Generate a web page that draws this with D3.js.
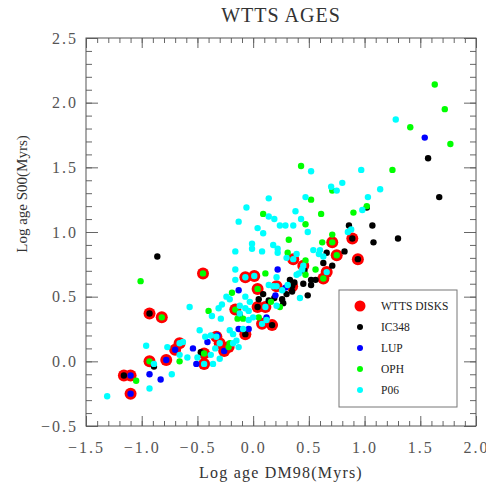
<!DOCTYPE html>
<html>
<head>
<meta charset="utf-8">
<script src="https://cdn.jsdelivr.net/npm/d3@7/dist/d3.min.js"></script>
<style>
  body { margin: 0; background: #fff; }
  svg text { font-family: "Liberation Serif", "Times New Roman", serif; }
</style>
</head>
<body>
<div id="chart"></div>
<script>
// values (log ages in Myr)
const xTicks = [-1.5, -1.0, -0.5, 0.0, 0.5, 1.0, 1.5, 2.0];
const yTicks = [-0.5, 0.0, 0.5, 1.0, 1.5, 2.0, 2.5];

const legendLabels = ["WTTS DISKS", "IC348", "LUP", "OPH", "P06"];

const ic348 = [
  [-0.86, 0.81], [-0.89, -0.04], [-0.47, 0.07], [-0.12, 0.36], [0.05, 0.48], [0.09, 0.52],
  [0.14, 0.47], [0.19, 0.49], [0.26, 0.48], [0.27, 0.45], [0.30, 0.52], [0.33, 0.63],
  [0.37, 0.61], [0.35, 0.54], [0.45, 0.60], [0.46, 0.70], [0.52, 0.63], [0.56, 0.63],
  [0.49, 0.51], [0.52, 0.59], [0.63, 0.76], [0.66, 0.84], [0.71, 0.74], [0.82, 0.85],
  [0.86, 1.05], [1.07, 1.05], [1.08, 0.92], [1.02, 1.19], [1.30, 0.95], [1.57, 1.57],
  [1.67, 1.27],
  [-1.16, -0.11], [-0.93, 0.37], [0.35, 0.58], [0.04, 0.42], [0.17, 0.28], [-0.07, 0.21],
  [0.89, 0.95], [0.94, 0.79]
];

const lup = [
  [-0.93, -0.10], [-0.83, -0.14], [-0.54, 0.10], [-0.51, -0.02], [-0.41, 0.15], [-0.32, 0.20],
  [-0.13, 0.55], [-0.13, 0.25], [-0.04, 0.25], [0.12, 0.34], [0.22, 0.71], [0.20, 0.51],
  [0.29, 0.57], [1.54, 1.73],
  [-1.10, -0.11], [-1.10, -0.25], [-0.78, 0.01], [-0.70, 0.09], [-0.26, 0.08]
];

const oph = [
  [-1.01, 0.62], [-1.05, -0.15], [-0.66, 0.00], [-0.40, 0.39], [-0.19, 0.53], [-0.14, 0.33],
  [-0.21, 0.14], [-0.09, 0.33], [0.05, 0.34], [0.11, 0.68], [0.16, 0.46], [0.24, 0.42],
  [0.32, 0.94], [0.31, 0.84], [0.47, 0.78], [0.47, 0.67], [0.56, 0.71], [0.47, 1.06],
  [0.62, 0.92], [0.71, 0.98], [0.43, 1.51], [0.71, 1.32], [0.52, 1.25], [0.09, 1.14],
  [0.61, 1.14], [1.63, 2.14], [1.72, 1.95], [1.41, 1.81], [1.77, 1.68], [1.25, 1.48],
  [1.02, 1.20], [0.90, 1.15],
  [-0.82, 0.34], [-0.93, 0.00], [-0.45, 0.68], [-0.44, 0.06], [-0.22, 0.11], [-0.16, 0.40],
  [0.04, 0.56], [0.63, 0.64], [0.71, 0.92], [0.75, 0.82]
];

const p06 = [
  [-1.31, -0.27], [-0.93, -0.21], [-0.73, -0.10], [-0.96, 0.12], [-0.89, -0.02], [-0.77, 0.11],
  [-0.63, 0.15], [-0.66, 0.05], [-0.59, 0.03], [-0.57, 0.42], [-0.50, 0.03], [-0.48, 0.24],
  [-0.43, 0.19], [-0.38, 0.20], [-0.38, 0.05], [-0.37, 0.35], [-0.36, -0.02], [-0.34, 0.10],
  [-0.30, 0.02], [-0.29, 0.33], [-0.28, 0.44], [-0.31, 0.41], [-0.24, 0.50], [-0.21, 0.48],
  [-0.16, 0.63], [-0.16, 0.71], [-0.16, 0.85], [-0.13, 1.08], [-0.06, 1.19], [-0.13, 0.11],
  [-0.18, 0.14], [-0.15, 0.16], [-0.21, 0.24], [-0.18, 0.21], [-0.12, 0.37], [-0.12, 0.43],
  [-0.07, 0.41], [-0.04, 0.39], [-0.07, 0.50], [-0.03, 0.46], [-0.04, 0.32], [0.00, 0.34],
  [-0.09, 0.25], [0.12, 0.32], [0.14, 0.59], [0.18, 0.58], [0.26, 0.55], [0.31, 0.59],
  [0.04, 1.03], [0.09, 0.99], [0.24, 1.05], [0.29, 1.05], [0.36, 1.05], [0.49, 1.00],
  [-0.01, 0.91], [-0.01, 0.87], [0.18, 0.90], [0.22, 0.87], [0.22, 0.84], [0.08, 0.85],
  [0.39, 0.83], [0.54, 0.86], [0.60, 0.86], [0.59, 0.83], [0.44, 0.71], [0.41, 0.68],
  [0.39, 0.67], [0.85, 1.00], [0.88, 1.02], [0.14, 1.26], [0.47, 1.27], [0.14, 1.12],
  [0.19, 1.10], [0.38, 1.16], [0.43, 1.10], [0.52, 1.47], [0.70, 1.35], [0.75, 1.32],
  [1.28, 1.87], [0.97, 1.48], [0.80, 1.38], [1.14, 1.33], [1.03, 1.27], [0.98, 1.17],
  [0.21, 0.65], [0.42, 0.49], [0.21, 0.43], [0.30, 0.80], [0.63, 0.81],
  [-0.66, 0.14], [-0.44, -0.02], [-0.33, 0.19], [-0.30, 0.14], [-0.07, 0.65], [0.01, 0.66],
  [0.21, 0.58], [0.11, 0.42], [0.08, 0.29], [0.36, 0.79], [0.45, 0.74], [0.66, 0.69]
];

// stars with disks, over-plotted as big red circles
const wttsDisks = [
  [-1.16, -0.11], [-1.10, -0.11], [-1.10, -0.25], [-0.93, 0.37], [-0.82, 0.34], [-0.93, 0.00],
  [-0.78, 0.01], [-0.70, 0.09], [-0.66, 0.14], [-0.45, 0.68], [-0.44, 0.06], [-0.44, -0.02],
  [-0.33, 0.19], [-0.30, 0.14], [-0.26, 0.08], [-0.22, 0.11], [-0.16, 0.40], [-0.07, 0.65],
  [0.01, 0.66], [0.04, 0.56], [0.21, 0.58], [0.35, 0.58], [0.04, 0.42], [0.11, 0.42],
  [0.17, 0.28], [0.08, 0.29], [-0.07, 0.21], [0.36, 0.79], [0.45, 0.74], [0.66, 0.69],
  [0.63, 0.64], [0.71, 0.92], [0.75, 0.82], [0.89, 0.95], [0.94, 0.79]
];

const groups = [
  { name: "IC348", pts: ic348, color: "#000000" },
  { name: "LUP", pts: lup, color: "#0000ff" },
  { name: "OPH", pts: oph, color: "#00ff00" },
  { name: "P06", pts: p06, color: "#00ffff" }
];

const width = 486, height = 483;
const margin = { top: 38, right: 10, bottom: 57, left: 86 };

const svg = d3.select("#chart").append("svg")
  .attr("width", width)
  .attr("height", height);

const x = d3.scaleLinear().domain([-1.5, 2.0]).range([margin.left, width - margin.right]);
const y = d3.scaleLinear().domain([-0.5, 2.5]).range([height - margin.bottom, margin.top]);

const fmt = d3.format(".1f");
const xMinor = d3.range(-15, 21).map(d => d / 10);
const yMinor = d3.range(-5, 26).map(d => d / 10);
const axisColor = "#666";

function styleAxis(g) {
  g.select(".domain").remove();
  g.selectAll("line").attr("stroke", axisColor);
}

// minor ticks (inward) on all four sides
svg.append("g").attr("transform", `translate(0,${y(-0.5)})`)
  .call(d3.axisBottom(x).tickValues(xMinor).tickSize(-5).tickFormat(""))
  .call(styleAxis);
svg.append("g").attr("transform", `translate(0,${y(2.5)})`)
  .call(d3.axisTop(x).tickValues(xMinor).tickSize(-5).tickFormat(""))
  .call(styleAxis);
svg.append("g").attr("transform", `translate(${x(-1.5)},0)`)
  .call(d3.axisLeft(y).tickValues(yMinor).tickSize(-6).tickFormat(""))
  .call(styleAxis);
svg.append("g").attr("transform", `translate(${x(2.0)},0)`)
  .call(d3.axisRight(y).tickValues(yMinor).tickSize(-6).tickFormat(""))
  .call(styleAxis);

// major ticks with labels
const xAxis = svg.append("g").attr("transform", `translate(0,${y(-0.5)})`)
  .call(d3.axisBottom(x).tickValues(xTicks).tickSize(-10).tickPadding(16).tickFormat(fmt))
  .call(styleAxis);
svg.append("g").attr("transform", `translate(0,${y(2.5)})`)
  .call(d3.axisTop(x).tickValues(xTicks).tickSize(-10).tickFormat(""))
  .call(styleAxis);
const yAxis = svg.append("g").attr("transform", `translate(${x(-1.5)},0)`)
  .call(d3.axisLeft(y).tickValues(yTicks).tickSize(-12).tickPadding(20).tickFormat(fmt))
  .call(styleAxis);
svg.append("g").attr("transform", `translate(${x(2.0)},0)`)
  .call(d3.axisRight(y).tickValues(yTicks).tickSize(-12).tickFormat(""))
  .call(styleAxis);

[xAxis, yAxis].forEach(a => a.selectAll("text")
  .attr("fill", "#555")
  .style("font-family", '"Liberation Serif", serif')
  .style("font-size", "16px")
  .style("letter-spacing", "2px"));
yAxis.selectAll("text").attr("x", -8);

// frame
svg.append("rect")
  .attr("x", x(-1.5)).attr("y", y(2.5))
  .attr("width", x(2.0) - x(-1.5)).attr("height", y(-0.5) - y(2.5))
  .attr("fill", "none").attr("stroke", "#555").attr("stroke-width", 1);

// red disk markers first, then the four samples on top
svg.append("g").selectAll("circle")
  .data(wttsDisks)
  .join("circle")
  .attr("cx", d => x(d[0]))
  .attr("cy", d => y(d[1]))
  .attr("r", 6)
  .attr("fill", "#ff0000");

groups.forEach(gr => {
  svg.append("g").selectAll("circle")
    .data(gr.pts)
    .join("circle")
    .attr("cx", d => x(d[0]))
    .attr("cy", d => y(d[1]))
    .attr("r", 3.2)
    .attr("fill", gr.color);
});

// title and axis titles
svg.append("text")
  .attr("x", (x(-1.5) + x(2.0)) / 2).attr("y", 22)
  .attr("text-anchor", "middle")
  .attr("fill", "#333")
  .style("font-size", "20px")
  .style("letter-spacing", "1px")
  .text("WTTS AGES");

svg.append("text")
  .attr("x", (x(-1.5) + x(2.0)) / 2).attr("y", 478)
  .attr("text-anchor", "middle")
  .attr("fill", "#333")
  .style("font-size", "16px")
  .style("letter-spacing", "1.2px")
  .text("Log age DM98(Myrs)");

svg.append("text")
  .attr("transform", "translate(27,194) rotate(-90)")
  .attr("text-anchor", "middle")
  .attr("fill", "#333")
  .style("font-size", "15px")
  .text("Log age S00(Myrs)");

// legend
const legend = svg.append("g").attr("transform", "translate(339,290)");
legend.append("rect")
  .attr("width", 118).attr("height", 117)
  .attr("fill", "#fff").attr("stroke", "#777").attr("stroke-width", 1);

const legendColors = ["#ff0000"].concat(groups.map(g => g.color));
const item = legend.selectAll("g.item")
  .data(legendLabels)
  .join("g")
  .attr("class", "item")
  .attr("transform", (d, i) => `translate(0,${16 + i * 21})`);

item.append("circle")
  .attr("cx", 21)
  .attr("r", (d, i) => i === 0 ? 5.5 : 3)
  .attr("fill", (d, i) => legendColors[i]);

item.append("text")
  .attr("x", 42).attr("dy", "0.35em")
  .attr("fill", "#222")
  .style("font-size", "11.5px")
  .text(d => d);
</script>
</body>
</html>
